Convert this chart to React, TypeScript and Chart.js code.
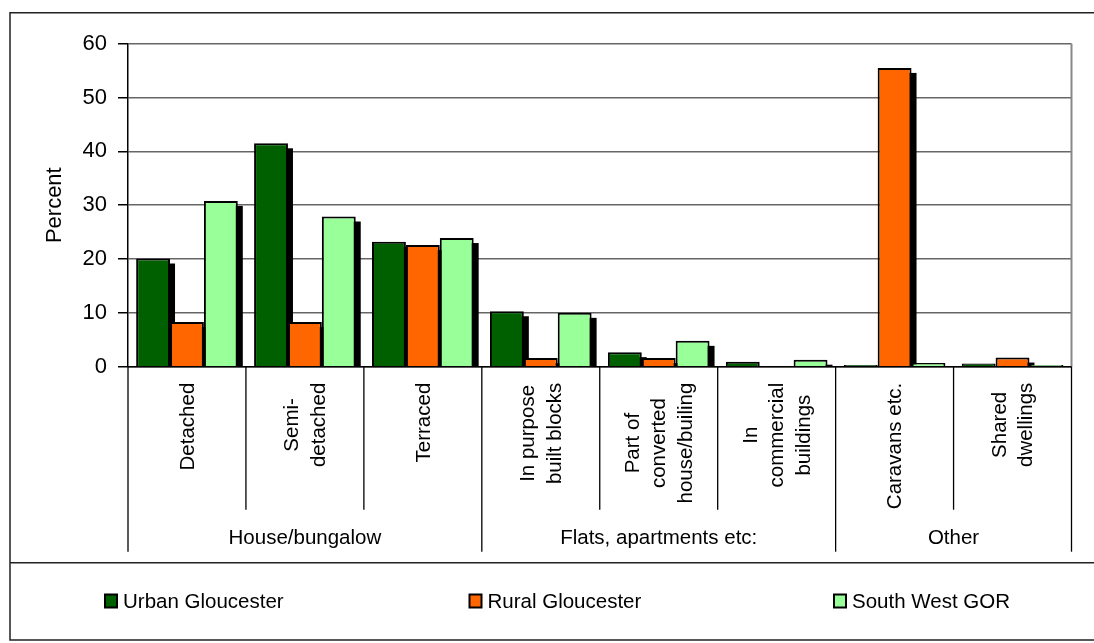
import { useEffect, useRef } from "react";
import { Chart, registerables } from "chart.js";

Chart.register(...registerables);

// ---------- data ----------
const categoryLabels: string[][] = [
  ["Detached"],
  ["Semi-", "detached"],
  ["Terraced"],
  ["In purpose", "built blocks"],
  ["Part of", "converted", "house/builing"],
  ["In", "commercial", "buildings"],
  ["Caravans etc."],
  ["Shared", "dwellings"],
];
const groupLabels = ["House/bungalow", "Flats, apartments etc:", "Other"];
const groupSpans = [3, 3, 2];

const seriesNames = ["Urban Gloucester", "Rural Gloucester", "South West GOR"];
const urbanGloucester = [20.1, 41.5, 23.2, 10.3, 2.7, 0.9, 0.3, 0.6];
const ruralGloucester = [8.3, 8.3, 22.6, 1.6, 1.6, 0, 55.5, 1.7];
const southWestGOR = [30.8, 27.9, 23.9, 10.0, 4.8, 1.3, 0.7, 0.3];
const seriesColors = ["#006000", "#FF6600", "#99FF99"];

const yMin = 0;
const yMax = 60;
const yStep = 10;
const yTitle = "Percent";

// ---------- styling ----------
const FONT = "Arial, 'Liberation Sans', sans-serif";

const decorPlugin = {
  id: "decor",
  beforeDatasetsDraw(chart: any) {
    const { ctx, chartArea: a } = chart;
    ctx.save();
    ctx.beginPath();
    ctx.rect(a.left, a.top, a.right - a.left, a.bottom - a.top);
    ctx.clip();
    ctx.fillStyle = "#000";
    chart.data.datasets.forEach((_ds: any, i: number) => {
      const meta = chart.getDatasetMeta(i);
      meta.data.forEach((el: any) => {
        const h = el.base - el.y;
        if (h <= 0.5) return;
        ctx.fillRect(el.x - el.width / 2 + 5, el.y + 5, el.width, h);
      });
    });
    ctx.restore();
  },
  afterDatasetsDraw(chart: any) {
    const { ctx, chartArea: a } = chart;
    ctx.save();
    // plot area right border (grey)
    ctx.strokeStyle = "#888";
    ctx.lineWidth = 2;
    ctx.beginPath();
    ctx.moveTo(a.right, a.top);
    ctx.lineTo(a.right, a.bottom);
    ctx.stroke();
    // x axis line
    ctx.strokeStyle = "#000";
    ctx.lineWidth = 1.5;
    ctx.beginPath();
    ctx.moveTo(a.left, a.bottom);
    ctx.lineTo(a.right, a.bottom);
    ctx.stroke();
    ctx.restore();
  },
  afterDraw(chart: any) {
    const { ctx, chartArea: a } = chart;
    const n = categoryLabels.length;
    const cw = (a.right - a.left) / n;
    const xScale = chart.scales.x;
    ctx.save();

    // category dividers
    const groupBounds = new Set<number>([0]);
    let acc = 0;
    groupSpans.forEach((s) => {
      acc += s;
      groupBounds.add(acc);
    });
    ctx.strokeStyle = "#000";
    ctx.lineWidth = 1.3;
    for (let k = 0; k <= n; k++) {
      const x = a.left + k * cw;
      const yEnd = groupBounds.has(k) ? a.bottom + 185 : a.bottom + 143;
      ctx.beginPath();
      ctx.moveTo(x, a.bottom);
      ctx.lineTo(x, yEnd);
      ctx.stroke();
    }

    // rotated category labels
    ctx.fillStyle = "#000";
    ctx.font = `20.5px ${FONT}`;
    ctx.textAlign = "center";
    ctx.textBaseline = "middle";
    const lineGap = 26.5;
    categoryLabels.forEach((lines, i) => {
      const cx = xScale.getPixelForValue(i);
      const W = Math.max(...lines.map((l) => ctx.measureText(l).width));
      const cy = a.bottom + 16 + W / 2;
      lines.forEach((line, j) => {
        ctx.save();
        ctx.translate(cx + (j - (lines.length - 1) / 2) * lineGap + 1, cy);
        ctx.rotate(-Math.PI / 2);
        ctx.fillText(line, 0, 0);
        ctx.restore();
      });
    });

    // group labels
    let start = 0;
    groupLabels.forEach((g, gi) => {
      const x0 = a.left + start * cw;
      const x1 = a.left + (start + groupSpans[gi]) * cw;
      ctx.fillText(g, (x0 + x1) / 2, a.bottom + 172);
      start += groupSpans[gi];
    });

    // outer border
    const W = chart.width;
    ctx.strokeStyle = "#222";
    ctx.lineWidth = 1.5;
    ctx.beginPath();
    ctx.moveTo(W + 2, 12.7);
    ctx.lineTo(10, 12.7);
    ctx.lineTo(10, 640);
    ctx.lineTo(W + 2, 640);
    ctx.moveTo(10, 562.7);
    ctx.lineTo(W + 2, 562.7);
    ctx.stroke();

    // legend
    ctx.font = `20.5px ${FONT}`;
    ctx.textAlign = "left";
    ctx.textBaseline = "middle";
    const legendY = 601;
    chart.data.datasets.forEach((ds: any, i: number) => {
      const lx = 104 + i * 364.5;
      ctx.fillStyle = "#000";
      ctx.fillRect(lx, legendY - 7.5, 14, 15);
      ctx.fillStyle = ds.backgroundColor;
      ctx.fillRect(lx + 2, legendY - 5.5, 10, 11);
      ctx.fillStyle = "#000";
      ctx.fillText(ds.label, lx + 19, legendY + 1);
    });

    ctx.restore();
  },
};

export default function App() {
  const canvasRef = useRef<HTMLCanvasElement | null>(null);

  useEffect(() => {
    const canvas = canvasRef.current;
    if (!canvas) return;
    const seriesValues = [urbanGloucester, ruralGloucester, southWestGOR];
    const chart = new Chart(canvas, {
      type: "bar",
      data: {
        labels: categoryLabels.map((l) => l.join(" ")),
        datasets: seriesValues.map((vals, i) => ({
          label: seriesNames[i],
          data: vals,
          backgroundColor: seriesColors[i],
          borderColor: "#000",
          borderWidth: 2,
          categoryPercentage: 0.862,
          barPercentage: 1.0,
        })),
      },
      options: {
        animation: false,
        responsive: true,
        maintainAspectRatio: false,
        layout: {
          padding: { left: 0, top: 43.7, right: 22.5, bottom: 276.3 },
        },
        plugins: {
          legend: { display: false },
          tooltip: { enabled: false },
        },
        scales: {
          x: {
            display: false,
          },
          y: {
            min: yMin,
            max: yMax,
            ticks: {
              stepSize: yStep,
              color: "#000",
              font: { family: FONT, size: 22 },
              padding: 11,
            },
            grid: {
              color: "#666",
              lineWidth: 1.5,
              tickLength: 10,
              tickColor: "#000",
              tickWidth: 1.5,
            },
            border: { display: true, color: "#000", width: 1.5 },
            title: {
              display: true,
              text: yTitle,
              color: "#000",
              font: { family: FONT, size: 22 },
              padding: { top: 42, bottom: 0 },
            },
            afterFit(scale: any) {
              scale.width = 128;
            },
          },
        },
      },
      plugins: [decorPlugin],
    });
    return () => chart.destroy();
  }, []);

  return (
    <div style={{ position: "fixed", left: 0, top: 0, width: 1094, height: 643, background: "#fff" }}>
      <canvas ref={canvasRef} />
    </div>
  );
}
